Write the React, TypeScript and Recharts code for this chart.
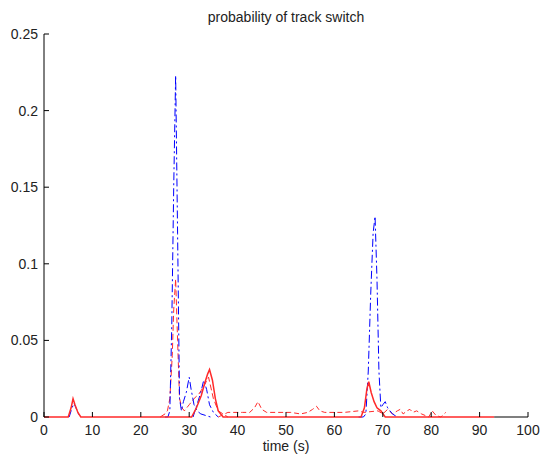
import React from "react";
import { LineChart, Line, XAxis, YAxis, ReferenceLine } from "recharts";

// time (s) / probability pairs
const blueSpikeT = [25, 25.6, 26.0, 26.4, 26.8, 27.2, 27.6, 28.0, 28.4, 28.8, 29.4, 30.0, 30.4, 31.0, 31.6, 32.4, 33.4, 34.4];
const blueSpikeV = [0, 0, 0.004, 0.06, 0.15, 0.223, 0.12, 0.012, 0.004, 0.01, 0.016, 0.026, 0.018, 0.008, 0.004, 0.002, 0.001, 0];

const blueLateT = [65, 66.0, 66.5, 67.0, 67.5, 68.0, 68.4, 68.8, 69.2, 69.6, 70.0, 70.5, 71.0, 72.0, 73.0];
const blueLateV = [0, 0, 0.002, 0.03, 0.08, 0.12, 0.131, 0.09, 0.03, 0.006, 0.008, 0.01, 0.006, 0.002, 0];

const blueBlipT = [5.2, 5.8, 6.2, 6.6, 7.0, 7.4];
const blueBlipV = [0, 0.006, 0.009, 0.006, 0.003, 0];

const blueHumpT = [30.8, 31.6, 32.4, 33.0, 33.6, 34.2, 35.0, 36.0];
const blueHumpV = [0, 0.008, 0.016, 0.024, 0.018, 0.008, 0.003, 0];

const redDashT = [24, 25, 25.5, 26.0, 26.5, 26.8, 27.2, 27.6, 28.0, 28.5, 29.0, 30.0, 31.0, 32.0, 33.0, 34.0, 35.0, 36.0, 37.0, 38.0];
const redDashV = [0, 0.002, 0.004, 0.012, 0.04, 0.07, 0.09, 0.05, 0.012, 0.006, 0.004, 0.008, 0.012, 0.015, 0.02, 0.026, 0.012, 0.004, 0.002, 0];

const redSolidT = [0, 5.0, 5.6, 6.0, 6.4, 7.0, 7.6, 30.5, 31.5, 32.5, 33.2, 33.8, 34.2, 34.8, 35.4, 36.0, 37.0, 65.5, 66.2, 66.7, 67.1, 67.6, 68.2, 68.8, 69.6, 70.5, 93];
const redSolidV = [0, 0, 0.006, 0.012, 0.008, 0.003, 0, 0, 0.006, 0.014, 0.022, 0.028, 0.031, 0.024, 0.012, 0.004, 0, 0, 0.006, 0.018, 0.023, 0.016, 0.01, 0.006, 0.004, 0, 0];

const redLowT = [36, 38, 41, 42.5, 43.5, 44.2, 45, 46, 48, 51, 53, 54.5, 55.5, 56.3, 57, 58, 62, 65, 66, 69, 70, 71, 72, 73, 73.6, 74.2, 75, 75.6, 76.2, 77, 78, 79.5, 80.2, 81, 82, 83];
const redLowV = [0, 0.003, 0.003, 0.003, 0.006, 0.01, 0.005, 0.003, 0.003, 0.003, 0.002, 0.003, 0.005, 0.007, 0.004, 0.003, 0.003, 0.004, 0.003, 0.004, 0.002, 0.005, 0.002, 0.004, 0.005, 0.002, 0.004, 0.005, 0.003, 0.004, 0.002, 0, 0.004, 0.001, 0, 0.003];

const xTicks = [0, 10, 20, 30, 40, 50, 60, 70, 80, 90, 100];
const yTicks = [0, 0.05, 0.1, 0.15, 0.2, 0.25];

const toRows = (t: number[], v: number[]) => t.map((x, i) => ({ t: x, v: v[i] }));

const FONT = "'Liberation Sans', Arial, sans-serif";

const XTick = (props: any) => {
  const { x, y, payload } = props;
  return (
    <g>
      <line x1={x} y1={y} x2={x} y2={y - 5} stroke="#000" />
      <text x={x} y={y + 18} textAnchor="middle" fontSize={14} fontFamily={FONT} fill="#222">
        {payload.value}
      </text>
    </g>
  );
};

const YTick = (props: any) => {
  const { x, y, payload } = props;
  return (
    <g>
      <line x1={x} y1={y} x2={x + 5} y2={y} stroke="#000" />
      <text x={x - 6} y={y + 5} textAnchor="end" fontSize={14} fontFamily={FONT} fill="#222">
        {payload.value}
      </text>
    </g>
  );
};

const RED = "#ff2a2a";
const BLUE = "#0000ff";

const series = [
  { name: "redLow", t: redLowT, v: redLowV, color: RED, dash: "5 3", w: 1 },
  { name: "redDash", t: redDashT, v: redDashV, color: RED, dash: "6 3", w: 1 },
  { name: "blueBlip", t: blueBlipT, v: blueBlipV, color: BLUE, dash: "7 3 2 3", w: 1 },
  { name: "blueHump", t: blueHumpT, v: blueHumpV, color: BLUE, dash: "7 3 2 3", w: 1 },
  { name: "blueSpike", t: blueSpikeT, v: blueSpikeV, color: BLUE, dash: "8 3 2 3", w: 1 },
  { name: "blueLate", t: blueLateT, v: blueLateV, color: BLUE, dash: "8 3 2 3", w: 1 },
  { name: "redSolid", t: redSolidT, v: redSolidV, color: RED, dash: undefined, w: 1.5 },
];

export default function App() {
  return (
    <div style={{ position: "absolute", left: 0, top: 0, width: 544, height: 457, background: "#fff" }}>
      <div
        style={{
          position: "absolute",
          left: 44,
          width: 484,
          top: 8,
          textAlign: "center",
          fontFamily: FONT,
          fontSize: 14,
          color: "#222",
          lineHeight: "18px",
        }}
      >
        probability of track switch
      </div>
      <LineChart width={544} height={457} margin={{ top: 34, right: 16, bottom: 0, left: 0 }}>
        <XAxis
          dataKey="t"
          type="number"
          domain={[0, 100]}
          ticks={xTicks}
          height={40}
          tickLine={false}
          tickSize={0}
          tickMargin={0}
          tick={<XTick />}
          axisLine={false}
          allowDuplicatedCategory={false}
        />
        <YAxis
          type="number"
          domain={[0, 0.25]}
          ticks={yTicks}
          width={44}
          tickLine={false}
          tickSize={0}
          tickMargin={0}
          tick={<YTick />}
          axisLine={{ stroke: "#000" }}
        />
        {/* the red zero line covers the axis up to t=93; only the last stretch shows grey */}
        <ReferenceLine segment={[{ x: 93, y: 0 }, { x: 100, y: 0 }]} stroke="#555" strokeWidth={1.5} />
        {series.map((s) => (
          <Line
            key={s.name}
            data={toRows(s.t, s.v)}
            dataKey="v"
            type="linear"
            stroke={s.color}
            strokeWidth={s.w}
            strokeDasharray={s.dash}
            dot={false}
            isAnimationActive={false}
          />
        ))}
      </LineChart>
      <div
        style={{
          position: "absolute",
          left: 44,
          width: 484,
          top: 437,
          textAlign: "center",
          fontFamily: FONT,
          fontSize: 14,
          color: "#222",
          lineHeight: "18px",
        }}
      >
        time (s)
      </div>
    </div>
  );
}
